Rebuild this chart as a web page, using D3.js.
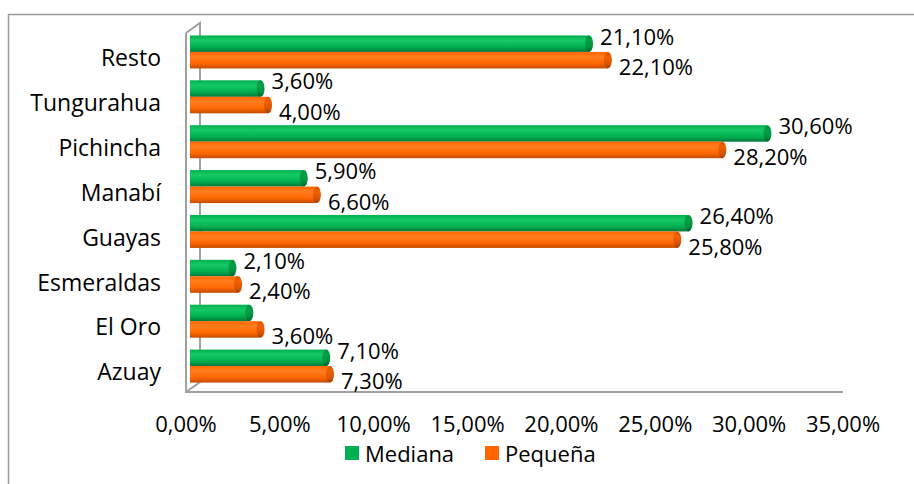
<!DOCTYPE html>
<html>
<head>
<meta charset="utf-8">
<script src="https://cdn.jsdelivr.net/npm/d3@7"></script>
<style>
  body { margin: 0; background: #fff; }
  svg text { font-family: "Open Sans", sans-serif; fill: #000; }
</style>
</head>
<body>
<div id="chart"></div>
<script>
// chart data (percent)
var categories = ["Resto", "Tungurahua", "Pichincha", "Manabí", "Guayas", "Esmeraldas", "El Oro", "Azuay"];
var mediana = [21.1, 3.6, 30.6, 5.9, 26.4, 2.1, 3.0, 7.1];
var pequena = [22.1, 4.0, 28.2, 6.6, 25.8, 2.4, 3.6, 7.3];
// which data labels are shown in the original
var medianaShown = [true, true, true, true, true, true, false, true];
var pequenaShown = [true, true, true, true, true, true, true, true];
var seriesNames = ["Mediana", "Pequeña"];
var xTicks = [0, 5, 10, 15, 20, 25, 30, 35];

var svgWidth = 914;
var svgHeight = 484;

var svg = d3.select("#chart")
  .append("svg")
  .attr("width", svgWidth)
  .attr("height", svgHeight);

// outer chart border (runs off the right and bottom edges)
svg.append("rect")
  .attr("x", 8.5)
  .attr("y", 14.5)
  .attr("width", 1000)
  .attr("height", 1000)
  .attr("fill", "none")
  .attr("stroke", "#999")
  .attr("stroke-width", 1.5);

var locale = d3.formatLocale({decimal: ",", thousands: ".", grouping: [3], currency: ["", "€"]});
var fmt = locale.format(".2f");
var pct = function(v) { return fmt(v) + "%"; };

var x = d3.scaleLinear().domain([0, 35]).range([186, 843]);
var y = d3.scaleBand().domain(categories).range([29.5, 388.5]);

var depth = 14; // 3d offset of back wall
var rise = 10;

// gradients for cylinder look
var defs = svg.append("defs");
function cylGrad(id, light, mid, dark) {
  var g = defs.append("linearGradient").attr("id", id)
    .attr("x1", 0).attr("y1", 0).attr("x2", 0).attr("y2", 1);
  g.append("stop").attr("offset", "0%").attr("stop-color", mid);
  g.append("stop").attr("offset", "30%").attr("stop-color", light);
  g.append("stop").attr("offset", "70%").attr("stop-color", mid);
  g.append("stop").attr("offset", "100%").attr("stop-color", dark);
}
cylGrad("gGreen", "#17c866", "#00b050", "#00773a");
cylGrad("gOrange", "#ff7d1f", "#ff6600", "#c24c00");
cylGrad("gGreenCap", "#00a046", "#00913f", "#005f2c");
cylGrad("gOrangeCap", "#f06000", "#d95500", "#a53f00");

// 3d frame: back wall edge, front edge, floor
var frame = svg.append("g")
  .attr("fill", "none")
  .attr("stroke", "#a0a0a0")
  .attr("stroke-width", 2);

var top0 = y.range()[0] + 3.5;
var bot0 = y.range()[1] + 3.5;
frame.append("path")
  .attr("d", d3.line()([
    [x(0), top0], [x(0) + depth, top0 - rise], [x(0) + depth, bot0 - rise], [x(0), bot0]
  ]));
frame.append("path")
  .attr("d", d3.line()([[x(0), top0], [x(0), bot0], [x(35), bot0]]));

// bars
var barH = 16.5;
var series = [
  {name: seriesNames[0], values: mediana, shown: medianaShown, fill: "url(#gGreen)", cap: "url(#gGreenCap)", legend: "#00b050", off: -barH, dy: -7},
  {name: seriesNames[1], values: pequena, shown: pequenaShown, fill: "url(#gOrange)", cap: "url(#gOrangeCap)", legend: "#ff6600", off: 0, dy: 7}
];

var bars = svg.append("g");
series.forEach(function(s) {
  var g = bars.append("g");
  categories.forEach(function(c, i) {
    var cy = y(c) + y.bandwidth() / 2;
    var y0 = cy + s.off;
    var x0 = x(0) + 4;
    var x1 = x(s.values[i]) + 7;
    var r = barH / 2;
    g.append("rect")
      .attr("x", x0)
      .attr("y", y0)
      .attr("width", x1 - x0)
      .attr("height", barH)
      .attr("fill", s.fill);
    g.append("ellipse")
      .attr("cx", x1)
      .attr("cy", y0 + r)
      .attr("rx", 4)
      .attr("ry", r)
      .attr("fill", s.cap);
    if (s.shown[i]) {
      svg.append("text")
        .attr("x", x1 + 11)
        .attr("y", y0 + r + s.dy)
        .attr("dy", "0.36em")
        .style("font-size", "22px")
        .text(pct(s.values[i]));
    }
  });
});

// category labels
svg.append("g").selectAll("text")
  .data(categories)
  .enter()
  .append("text")
  .attr("x", 161)
  .attr("y", function(d) { return y(d) + y.bandwidth() / 2 + 6; })
  .attr("dy", "0.36em")
  .attr("text-anchor", "end")
  .style("font-size", "23px")
  .text(function(d) { return d; });

// x axis tick labels
svg.append("g").selectAll("text")
  .data(xTicks)
  .enter()
  .append("text")
  .attr("x", function(d) { return x(d); })
  .attr("y", 432)
  .attr("text-anchor", "middle")
  .style("font-size", "22px")
  .text(function(d) { return pct(d); });

// legend
var legend = svg.append("g");
var legendX = [345, 485];
series.forEach(function(s, i) {
  legend.append("rect")
    .attr("x", legendX[i])
    .attr("y", 446)
    .attr("width", 14)
    .attr("height", 14)
    .attr("fill", s.legend);
  legend.append("text")
    .attr("x", legendX[i] + 20)
    .attr("y", 462)
    .style("font-size", "22px")
    .text(s.name);
});
</script>
</body>
</html>
